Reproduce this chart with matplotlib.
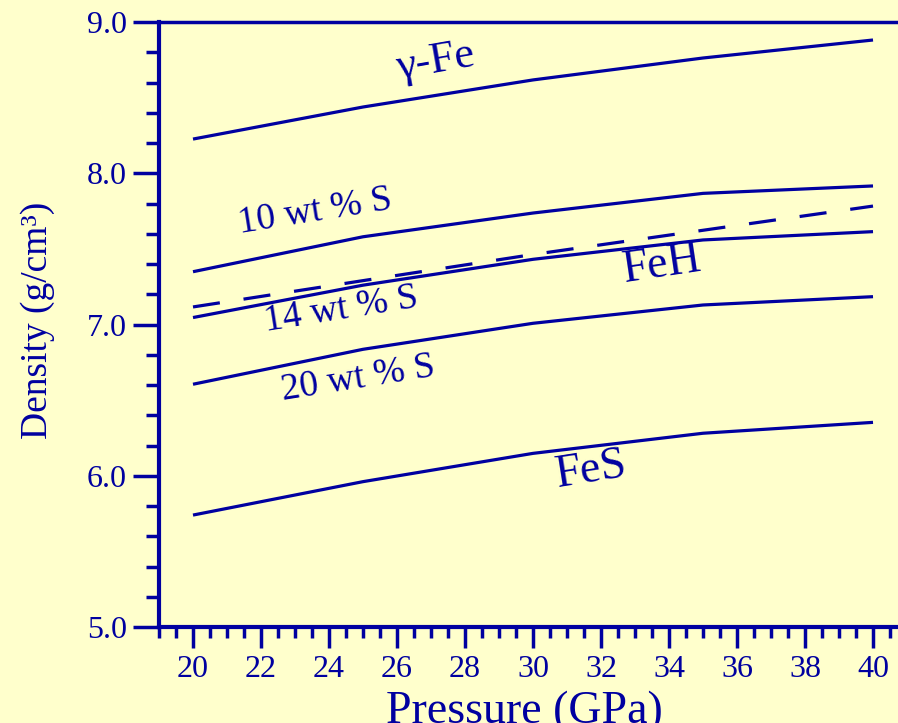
import matplotlib.pyplot as plt
from matplotlib.ticker import MultipleLocator

pressure = [20, 25, 30, 35, 40]
gamma_fe = [8.226, 8.438, 8.617, 8.762, 8.881]
s10 = [7.349, 7.580, 7.737, 7.867, 7.916]
s14 = [7.046, 7.260, 7.431, 7.559, 7.614]
s20 = [6.605, 6.836, 7.008, 7.129, 7.184]
fes = [5.740, 5.961, 6.148, 6.281, 6.353]
feh = [7.116, 7.290, 7.463, 7.623, 7.783]

blue = "#0000A0"
bg = "#FFFFCC"
serif = "Liberation Serif"

plt.rcParams["font.family"] = serif

fig = plt.figure(figsize=(8.98, 7.23), dpi=100, facecolor=bg)
ax = fig.add_axes([159 / 898, 96 / 723, 1 - 159 / 898, (627 - 22) / 723])
ax.set_facecolor(bg)

for y in [gamma_fe, s10, s14, s20, fes]:
    ax.plot(pressure, y, color=blue, lw=2.3, solid_capstyle="butt")
ax.plot(pressure, feh, color=blue, lw=2.3, dashes=(8.5, 7.5), dash_capstyle="butt")

ax.set_xlim(19, 40.735)
ax.set_ylim(5, 9)

ax.spines["right"].set_visible(False)
ax.spines["left"].set_linewidth(3)
ax.spines["bottom"].set_linewidth(3)
ax.spines["top"].set_linewidth(2.5)
for s in ax.spines.values():
    s.set_color(blue)

ax.xaxis.set_major_locator(MultipleLocator(2))
ax.xaxis.set_minor_locator(MultipleLocator(0.5))
ax.yaxis.set_major_locator(MultipleLocator(1))
ax.yaxis.set_minor_locator(MultipleLocator(0.2))
ax.set_xticks(range(20, 41, 2))
ax.yaxis.set_major_formatter(lambda v, p: f"{v:.1f}")

ax.tick_params(axis="x", which="major", length=15, width=2.5, color=blue,
               labelcolor=blue, labelsize=23, pad=5, direction="out")
ax.tick_params(axis="x", which="minor", length=8, width=2.5, color=blue, direction="out")
ax.tick_params(axis="y", which="major", length=19, width=2.5, color=blue,
               labelcolor=blue, labelsize=23, pad=4, direction="out")
ax.tick_params(axis="y", which="minor", length=9.5, width=2.5, color=blue, direction="out")

ax.set_xlabel("Pressure (GPa)", fontsize=33, color=blue)
ax.set_ylabel("Density (g/cm³)", fontsize=27, color=blue)
ax.xaxis.set_label_coords(365 / 739, -0.105)
ax.yaxis.set_label_coords(-0.141, 0.507)

labels = [
    ("γ-Fe", 27.12, 8.736, 10, 32),
    ("10 wt % S", 23.59, 7.744, 9, 27),
    ("14 wt % S", 24.35, 7.096, 9, 27),
    ("20 wt % S", 24.85, 6.640, 9, 27),
    ("FeH", 33.79, 7.393, 8.5, 33),
    ("FeS", 31.71, 6.038, 9, 33),
]
for t, x, y, rot, fs in labels:
    ax.text(x, y, t, color=blue, fontsize=fs, rotation=rot, ha="center",
            va="center", rotation_mode="anchor")

fig.savefig("out.png", dpi=100, facecolor=bg)
